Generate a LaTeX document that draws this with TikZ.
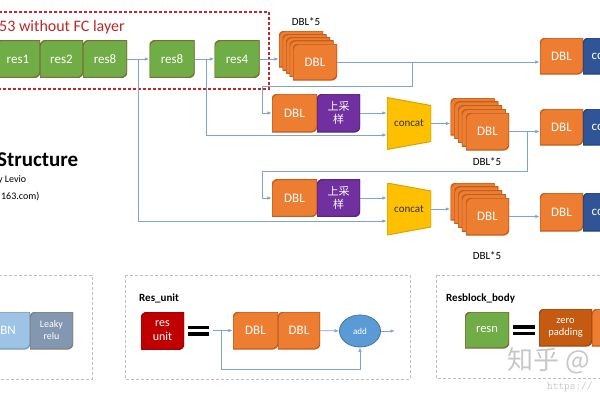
\documentclass[tikz,border=0pt]{standalone}
\usepackage{fontspec}
\setmainfont{Carlito}
\newfontfamily\cjk{Noto Sans CJK SC}
\usetikzlibrary{arrows.meta,shapes.geometric}
\definecolor{resc}{RGB}{112,173,71}
\definecolor{rese}{RGB}{125,110,55}
\definecolor{dblc}{RGB}{237,125,49}
\definecolor{dble}{RGB}{195,95,30}
\definecolor{upc}{RGB}{112,48,160}
\definecolor{convc}{RGB}{47,85,151}
\definecolor{catc}{RGB}{255,192,0}
\definecolor{unitc}{RGB}{192,0,0}
\definecolor{bnc}{RGB}{157,195,230}
\definecolor{reluc}{RGB}{132,151,176}
\definecolor{addc}{RGB}{91,155,213}
\definecolor{zpc}{RGB}{197,90,17}
\definecolor{linkc}{RGB}{125,165,205}
\definecolor{titlec}{RGB}{192,40,40}
\begin{document}
\begin{tikzpicture}[x=1pt, y=-1pt,
  blk/.style 2 args={minimum width=44pt, minimum height=37pt, inner sep=0pt, text=white,
    font=\fontsize{13}{14}\selectfont, align=center,
    path picture={
      \filldraw[fill=#1, draw=#2, line width=1.4pt]
        (path picture bounding box.west) [rounded corners=6pt] -- (path picture bounding box.north west) -- (path picture bounding box.north)
        [sharp corners] -- (path picture bounding box.north east) -- (path picture bounding box.east)
        [rounded corners=6pt] -- (path picture bounding box.south east) -- (path picture bounding box.south)
        [sharp corners] -- (path picture bounding box.south west) -- cycle;}},
  cat/.style={minimum width=44pt, minimum height=52pt, inner sep=0pt, text=black!80,
    font=\fontsize{11}{12}\selectfont,
    path picture={
      \filldraw[fill=catc, draw=catc!85!black, line width=1pt]
        (path picture bounding box.north west) -- ([yshift=-8pt]path picture bounding box.north east)
        -- ([yshift=8pt]path picture bounding box.south east) -- (path picture bounding box.south west) -- cycle;}},
  lbl/.style={inner sep=0pt, font=\fontsize{11}{12}\selectfont},
  link/.style={draw=linkc, line width=0.8pt},
  arr/.style={link, -{Latex[length=4.5pt,width=3.5pt]}},
  panel/.style={draw=black!25, line width=0.8pt, dash pattern=on 3pt off 2pt}]
\useasboundingbox (0,0) rectangle (600,400);
\clip (0,0) rectangle (600,400);
\fill[white] (0,0) rectangle (600,400);
% backbone
\draw[titlec, line width=1.2pt, dash pattern=on 3pt off 2pt] (-5,12) rectangle (269,89);
\node[anchor=west, inner sep=0pt, text=titlec, font=\fontsize{16}{18}\selectfont] (net) at (-1,27) {53 without FC layer};
\node[blk={resc}{rese}] (r1) at (18,59) {res1};
\node[blk={resc}{rese}, minimum width=43pt] (r2) at (61.5,59) {res2};
\node[blk={resc}{rese}] (r8a) at (105,59) {res8};
\node[blk={resc}{rese}, minimum width=45pt] (r8b) at (172,59) {res8};
\node[blk={resc}{rese}, minimum width=45pt] (r4) at (237,59) {res4};
\draw[arr] (r8a) -- (r8b);
\draw[arr] (r8b) -- (r4);
\coordinate (j1) at (138,59);
\coordinate (j2) at (206,59);
% scale 1
\foreach \k in {4,3,2,1}
  \node[blk={dblc}{dble}, minimum height=36pt] (s1-\k) at (315-3.5*\k, 62-3.25*\k) {};
\node[blk={dblc}{dble}, minimum height=36pt] (s1) at (315,62) {DBL};
\node[lbl] (s1l) at (306,22) {DBL*5};
\draw[arr] (r4.east) -- (r4.east -| s1-4.west);
\node[blk={dblc}{dble}, minimum width=43pt, minimum height=36pt] (o1) at (561.5,56) {DBL};
\node[blk={convc}{convc!80!black}, minimum width=42pt, minimum height=36pt] (c1) at (604,56) {conv};
\draw[arr] (s1.east) -- (s1.east -| o1.west);
\coordinate (j3) at (s1.east -| 412,0);
\coordinate (k1) at (262,86);
% scale 2
\node[blk={dblc}{dble}, minimum width=45pt, minimum height=38pt] (dbl2) at (294.5,113) {DBL};
\node[blk={upc}{upc!80!black}, minimum width=43pt, minimum height=38pt, font=\cjk\fontsize{11}{13}\selectfont] (up2) at (338.5,113) {上采\\样};
\draw[arr] (j3) |- (k1) |- (dbl2.west);
\node[cat] (cc1) at (409,123.5) {concat};
\draw[arr] (up2.east) -- (up2.east -| cc1.west);
\draw[arr] (j2) |- (cc1.west |- 0,135);
\foreach \k in {4,3,2,1}
  \node[blk={dblc}{dble}] (s2-\k) at (487.5-3.75*\k, 131.5-3.75*\k) {};
\node[blk={dblc}{dble}, minimum width=43pt] (s2) at (487.5,131.5) {DBL};
\node[lbl] (s2l) at (487,162) {DBL*5};
\draw[arr] (cc1.east) -- (cc1.east -| s2-4.west);
\node[blk={dblc}{dble}, minimum width=43pt, minimum height=36pt] (o2) at (561.5,127) {DBL};
\node[blk={convc}{convc!80!black}, minimum width=42pt, minimum height=36pt] (c2) at (604,127) {conv};
\draw[arr] (s2.east) -- (s2.east -| o2.west);
\coordinate (j4) at (s2.east -| 527,0);
\coordinate (k2) at (262,171);
% scale 3
\node[blk={dblc}{dble}, minimum width=45pt] (dbl3) at (294.5,198) {DBL};
\node[blk={upc}{upc!80!black}, minimum width=43pt, font=\cjk\fontsize{11}{13}\selectfont] (up3) at (338.5,198) {上采\\样};
\draw[arr] (j4) |- (k2) |- (dbl3.west);
\node[cat] (cc2) at (409,209) {concat};
\draw[arr] (up3.east) -- (up3.east -| cc2.west);
\draw[arr] (j1) |- (cc2.west |- 0,221);
\foreach \k in {4,3,2,1}
  \node[blk={dblc}{dble}] (s3-\k) at (487.5-3.75*\k, 216.5-3.75*\k) {};
\node[blk={dblc}{dble}, minimum width=43pt] (s3) at (487.5,216.5) {DBL};
\node[lbl] (s3l) at (487,256) {DBL*5};
\draw[arr] (cc2.east) -- (cc2.east -| s3-4.west);
\node[blk={dblc}{dble}, minimum width=43pt, minimum height=38pt] (o3) at (561.5,212) {DBL};
\node[blk={convc}{convc!80!black}, minimum width=42pt, minimum height=38pt] (c3) at (604,212) {conv};
\draw[arr] (s3.east) -- (s3.east -| o3.west);
% caption
\node[anchor=west, inner sep=0pt, font=\bfseries\fontsize{21}{24}\selectfont] (ttl) at (-3,160) {Structure};
\node[anchor=west, inner sep=0pt, font=\fontsize{10}{12}\selectfont] (auth) at (-2,180) {y Levio};
\node[anchor=west, inner sep=0pt, font=\fontsize{10}{12}\selectfont] (mail) at (-8,197) {@163.com)};
% DBL
\draw[panel] (-5,275) rectangle (92,379);
\node[blk={bnc}{bnc!80!black}] (bn) at (8,330.5) {BN};
\node[blk={reluc}{black!50}, minimum width=43pt, font=\fontsize{10}{12}\selectfont] (lr) at (51.5,330.5) {Leaky\\relu};
% res unit
\draw[panel] (125,275) rectangle (410,379);
\node[anchor=west, inner sep=0pt, font=\bfseries\fontsize{11}{12}\selectfont] (rut) at (139,298) {Res\_unit};
\node[blk={unitc}{unitc!85!black}, minimum width=43pt, font=\fontsize{12}{14}\selectfont] (ru) at (162.5,331) {res\\unit};
\fill (188,325.5) rectangle (209,329);
\fill (188,332) rectangle (209,335.5);
\coordinate (ui) at (213,330.5);
\coordinate (j5) at (221,330.5);
\node[blk={dblc}{dble}, minimum width=45pt] (ud1) at (255.5,330.5) {DBL};
\node[blk={dblc}{dble}, minimum width=42pt] (ud2) at (299,330.5) {DBL};
\node[ellipse, fill=addc, draw=addc!75!black, line width=0.8pt, minimum width=41pt, minimum height=32pt, inner sep=0pt, text=white, font=\fontsize{9}{10}\selectfont] (add) at (360,331) {add};
\coordinate (ao) at (395,331);
\draw[arr] (ui) -- (ud1);
\draw[arr] (ud2) -- (add);
\draw[arr] (add) -- (ao);
\draw[arr] (j5) |- (add.south |- 0,369) -- (add.south);
% resblock body
\draw[panel] (436,275) rectangle (610,378);
\node[anchor=west, inner sep=0pt, font=\bfseries\fontsize{11}{12}\selectfont] (rbt) at (446,298) {Resblock\_body};
\node[blk={resc}{rese}, minimum height=36pt, font=\fontsize{12.5}{14}\selectfont] (rb) at (487,330) {resn};
\fill (513,325) rectangle (535,328.5);
\fill (513,331.5) rectangle (535,335);
\node[blk={zpc}{zpc!80!black}, minimum width=53pt, font=\fontsize{10.5}{12}\selectfont] (zp) at (565.5,327.5) {zero\\padding};
\node[blk={dblc}{dble}, minimum width=48pt] (zd) at (616,327.5) {};
% watermark
\node[anchor=west, inner sep=0pt, text=black!22, font=\cjk\fontsize{26}{28}\selectfont] (wm) at (507,361) {知乎 @};
\node[anchor=west, inner sep=0pt, text=black!22, font=\ttfamily\fontsize{11}{12}\selectfont] (wu) at (547,387) {https://};
\end{tikzpicture}
\end{document}
